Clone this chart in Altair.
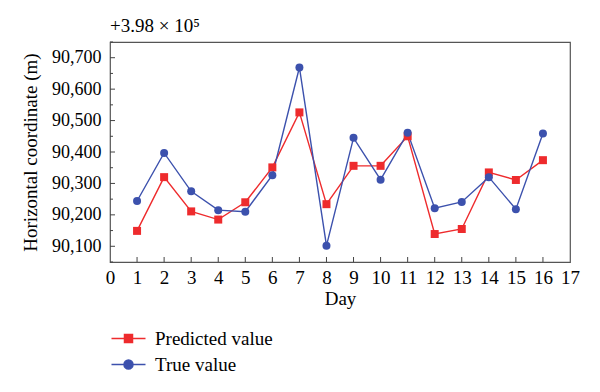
import altair as alt
import pandas as pd

# ---- data ----
days = list(range(1, 17))
predicted = [90149, 90320, 90211, 90185, 90240, 90351, 90526, 90234,
             90356, 90356, 90450, 90139, 90155, 90335, 90311, 90374]
true_vals = [90244, 90397, 90275, 90215, 90210, 90326, 90669, 90102,
             90445, 90312, 90461, 90221, 90241, 90320, 90218, 90459]
series_names = ["Predicted value", "True value"]
series_colors = ["#ee2b2d", "#3c51ad"]

x_label_values = list(range(0, 18))
x_tick_values = list(range(1, 17))
y_major_values = [90100, 90200, 90300, 90400, 90500, 90600, 90700]
y_minor_values = [90050, 90150, 90250, 90350, 90450, 90550, 90650, 90750]

df = pd.DataFrame({
    "day": days + days,
    "value": predicted + true_vals,
    "series": [series_names[0]] * len(days) + [series_names[1]] * len(days),
})
ymaj_df = pd.DataFrame({"v": y_major_values})
ymin_df = pd.DataFrame({"v": y_minor_values})
xt_df = pd.DataFrame({"d": x_tick_values})

FONT = "Liberation Serif"
W, H = 460, 220

xscale = alt.Scale(domain=[0, 17], nice=False, zero=False)
yscale = alt.Scale(domain=[90050, 90750], nice=False, zero=False)

x_axis = alt.Axis(values=x_label_values, title="Day", ticks=False, tickSize=0,
                  domain=False, grid=False, format="d", labelFlush=False,
                  labelOverlap=False,
                  labelFont=FONT, labelFontSize=19, labelColor="black",
                  labelPadding=6, titleFont=FONT, titleFontSize=19,
                  titleFontWeight="normal", titleColor="black", titlePadding=2)
y_axis = alt.Axis(values=y_major_values, title="Horizontal coordinate (m)",
                  ticks=False, tickSize=0, domain=False, grid=False, format=",d",
                  labelFlush=False, labelOverlap=False,
                  labelFont=FONT, labelFontSize=18, labelColor="black",
                  labelPadding=9, titleFont=FONT, titleFontSize=19,
                  titleFontWeight="normal", titleColor="black", titlePadding=11)

color_scale = alt.Scale(domain=series_names, range=series_colors)

base = alt.Chart(df)
X = alt.X("day:Q", scale=xscale, axis=x_axis)
Y = alt.Y("value:Q", scale=yscale, axis=y_axis)

lines = base.mark_line(strokeWidth=1.4).encode(
    x=X, y=Y,
    color=alt.Color("series:N", scale=color_scale, legend=None),
)
points = base.mark_point(filled=True, opacity=1, size=64).encode(
    x=X, y=Y,
    color=alt.Color("series:N", scale=color_scale, legend=None),
    shape=alt.Shape("series:N", scale=alt.Scale(domain=series_names, range=["square", "circle"]), legend=None),
)

tick_color = "#444444"
ymaj = alt.Chart(ymaj_df).mark_rule(color=tick_color, strokeWidth=1).encode(
    y=alt.Y("v:Q", scale=yscale, axis=y_axis), x=alt.value(0), x2=alt.value(5))
ymin = alt.Chart(ymin_df).mark_rule(color=tick_color, strokeWidth=1).encode(
    y=alt.Y("v:Q", scale=yscale, axis=y_axis), x=alt.value(0), x2=alt.value(3))
xt = alt.Chart(xt_df).mark_rule(color=tick_color, strokeWidth=1).encode(
    x=alt.X("d:Q", scale=xscale, axis=x_axis), y=alt.value(H), y2=alt.value(H - 5))

sq_path = "M-3.4,0H3.4M-0.8,-0.8H0.8V0.8H-0.8Z"
ci_path = "M-3.4,0H3.4M0.9,0A0.9,0.9,0,1,1,-0.9,0A0.9,0.9,0,1,1,0.9,0Z"

leg = alt.Legend(title=None, orient="none", legendX=9, legendY=287,
                 labelFont=FONT, labelFontSize=19, labelColor="black",
                 symbolSize=100, symbolStrokeWidth=1.5, labelOffset=17,
                 rowPadding=6, padding=0, symbolOpacity=1)

legend_layer = base.transform_filter("false").mark_point(
    filled=True, opacity=1, size=100, strokeWidth=1.5).encode(
    x=X, y=Y,
    fill=alt.Fill("series:N", scale=alt.Scale(domain=series_names, range=series_colors), legend=leg),
    stroke=alt.Stroke("series:N", scale=alt.Scale(domain=series_names, range=series_colors), legend=leg),
    shape=alt.Shape("series:N", scale=alt.Scale(domain=series_names, range=[sq_path, ci_path]), legend=leg),
)

chart = alt.layer(lines, points, ymaj, ymin, xt, legend_layer).resolve_scale(
    shape="independent", fill="independent", stroke="independent"
).properties(
    width=W, height=H,
    autosize=alt.AutoSizeParams(type="none"),
    padding={"left": 102, "top": 34, "right": 20, "bottom": 118},
    title=alt.TitleParams("+3.98 × 10⁵", anchor="start", frame="group",
                          font=FONT, fontSize=19, fontWeight="normal",
                          color="black", offset=6),
).configure_view(stroke="#555555", strokeWidth=1.2)

chart.save("out.html", embed_options={"renderer": "svg", "actions": False})
